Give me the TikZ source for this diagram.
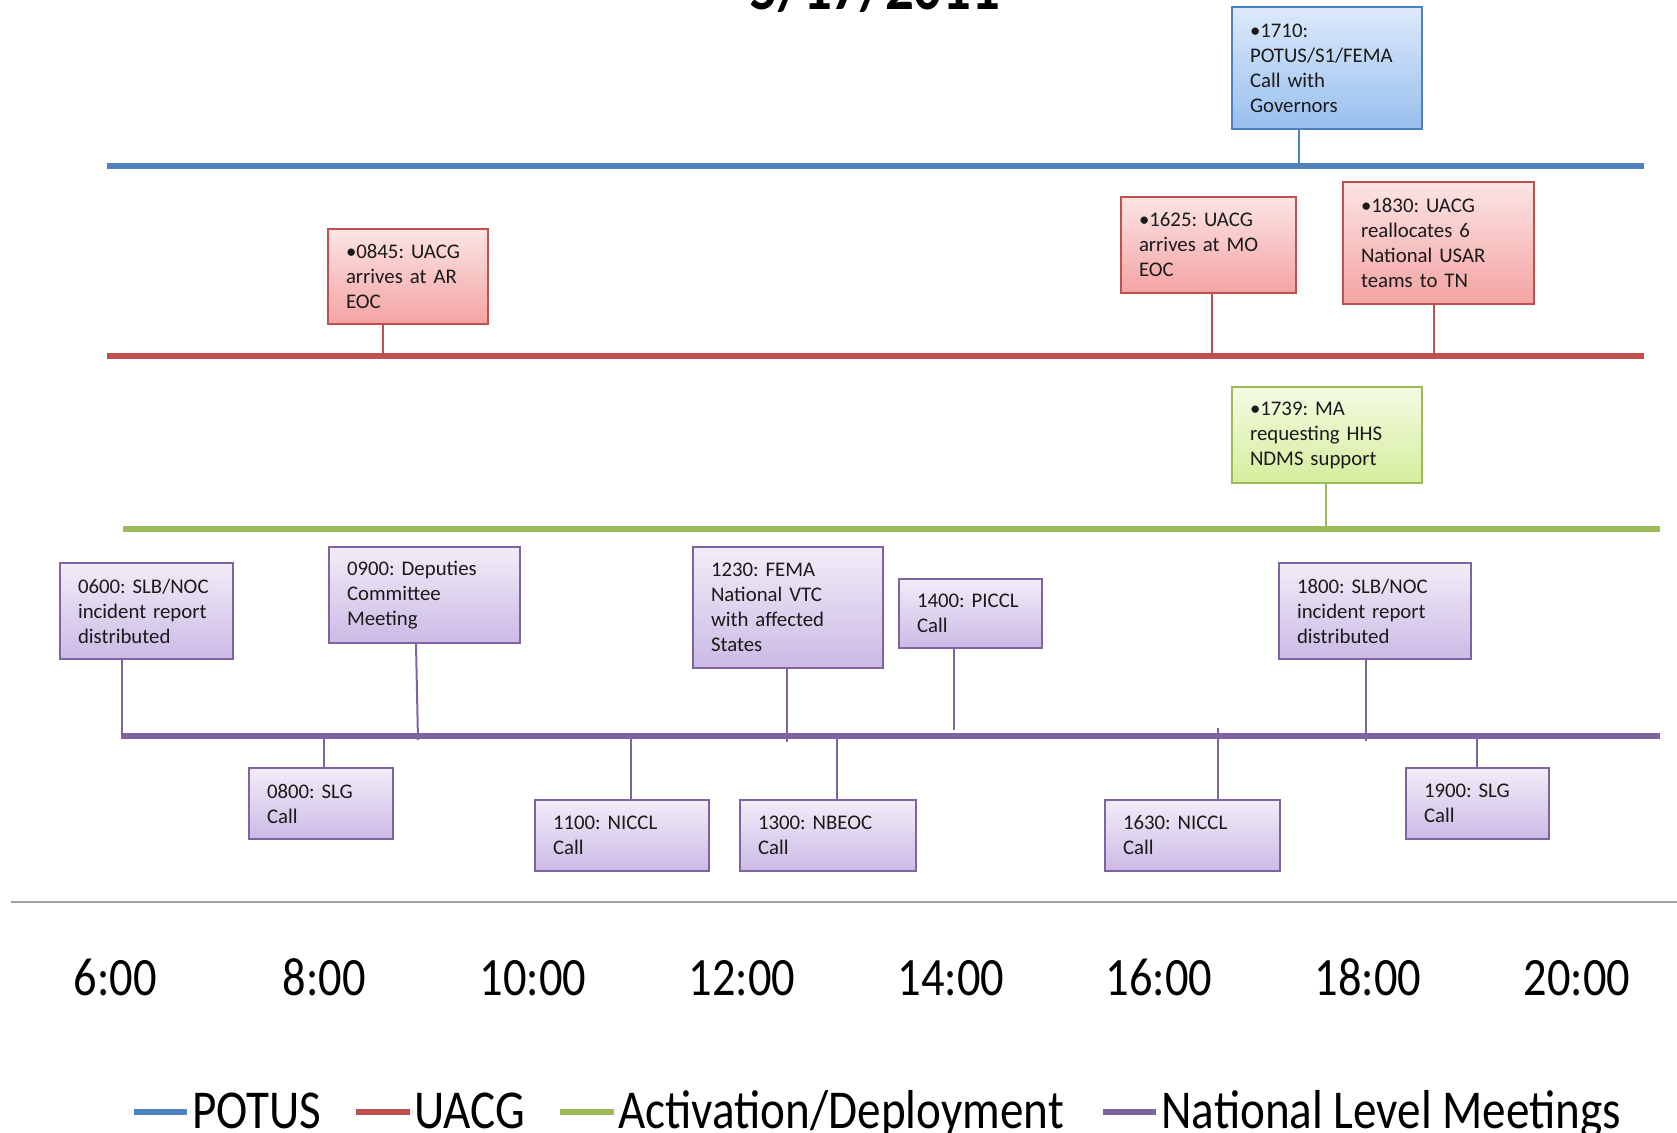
\documentclass[tikz,border=0pt]{standalone}
\usepackage{fontspec}
\setmainfont{Carlito}
\newfontfamily\narrowfont[FakeStretch=0.86]{Carlito}
\frenchspacing
\definecolor{potus}{HTML}{4F81BD}
\definecolor{uacg}{HTML}{C0504D}
\definecolor{actd}{HTML}{9BBB59}
\definecolor{nlm}{HTML}{8064A2}
\definecolor{axisgray}{HTML}{A0A0A0}
\definecolor{boxtext}{HTML}{1A1A1A}
\definecolor{bluetop}{HTML}{DCE9FA}
\definecolor{bluebot}{HTML}{98BFEE}
\definecolor{redtop}{HTML}{FCE4E4}
\definecolor{redbot}{HTML}{F4A3A3}
\definecolor{greentop}{HTML}{F5FBE4}
\definecolor{greenbot}{HTML}{D5ED9C}
\definecolor{purptop}{HTML}{F2EDF8}
\definecolor{purpbot}{HTML}{CBBAE5}
\tikzset{
  evbox/.style={draw, line width=1pt, align=left, inner xsep=9pt, inner ysep=0pt,
    font=\fontsize{10.4}{12.5}\selectfont, text=boxtext, anchor=center},
  sz/.style n args={3}{minimum width=#1pt, minimum height=#2pt, text width=#3pt},
  bluebox/.style={evbox, draw=potus, top color=bluetop, bottom color=bluebot},
  redbox/.style={evbox, draw=uacg, top color=redtop, bottom color=redbot},
  greenbox/.style={evbox, draw=actd, top color=greentop, bottom color=greenbot},
  purplebox/.style={evbox, draw=nlm, top color=purptop, bottom color=purpbot},
  seriesline/.style={line width=2.6pt},
  conn/.style={line width=1pt},
  axislbl/.style={anchor=base, inner sep=0pt, font=\narrowfont\fontsize{27}{30}\selectfont},
  leglbl/.style={anchor=base west, inner sep=0pt, font=\narrowfont\fontsize{27.4}{30}\selectfont},
  legline/.style={line width=3pt},
}
\begin{document}
\begin{tikzpicture}[x=0.5pt, y=-0.5pt]
\clip (0,0) rectangle (1677,1133);
\fill[white] (0,0) rectangle (1677,1133);

% title (cut off at top)
\node[anchor=base, inner sep=0pt, font=\narrowfont\bfseries\fontsize{33}{36}\selectfont] (title) at (875,10) {5/17/2011};

% series lines
\coordinate (potusL) at (107,166);  \coordinate (potusR) at (1644,166);
\coordinate (uacgL) at (107,356);   \coordinate (uacgR) at (1644,356);
\coordinate (actdL) at (123,529);   \coordinate (actdR) at (1660,529);
\coordinate (nlmL) at (121,736);    \coordinate (nlmR) at (1660,736);
\draw[seriesline, potus] (potusL) -- (potusR);
\draw[seriesline, uacg] (uacgL) -- (uacgR);
\draw[seriesline, actd] (actdL) -- (actdR);
\draw[seriesline, nlm] (nlmL) -- (nlmR);

% axis
\coordinate (axL) at (11,902); \coordinate (axR) at (1677,902);
\draw[line width=1.3pt, axisgray] (axL) -- (axR);

% boxes
\node[bluebox, sz={95}{60.75}{77}] (b1710) at (1327,68) {•1710:\\POTUS/S1/FEMA\\Call with\\Governors};
\node[redbox, sz={80}{47.5}{62}] (b0845) at (408,276.5) {•0845: UACG\\arrives at AR\\EOC};
\node[redbox, sz={87.5}{48}{69.5}] (b1625) at (1208.5,245) {•1625: UACG\\arrives at MO\\EOC};
\node[redbox, sz={95.5}{61}{77.5}] (b1830) at (1438.5,243) {•1830: UACG\\reallocates 6\\National USAR\\teams to TN};
\node[greenbox, sz={95}{48}{77}] (b1739) at (1327,435) {•1739: MA\\requesting HHS\\NDMS support};
\node[purplebox, sz={86.5}{48}{68.5}] (b0600) at (146.5,611) {0600: SLB/NOC\\incident report\\distributed};
\node[purplebox, sz={95.5}{48}{77.5}] (b0900) at (424.5,595) {0900: Deputies\\Committee\\Meeting};
\node[purplebox, sz={95}{60.5}{77}] (b1230) at (788,607.5) {1230: FEMA\\National VTC\\with affected\\States};
\node[purplebox, sz={71.5}{34.5}{53.5}] (b1400) at (970.5,613.5) {1400: PICCL\\Call};
\node[purplebox, sz={96}{48}{78}] (b1800) at (1375,611) {1800: SLB/NOC\\incident report\\distributed};
\node[purplebox, sz={72}{35.5}{54}] (b0800) at (321,803.5) {0800: SLG\\Call};
\node[purplebox, sz={87}{35.5}{69}] (b1100) at (622,835.5) {1100: NICCL\\Call};
\node[purplebox, sz={88}{35.5}{70}] (b1300) at (828,835.5) {1300: NBEOC\\Call};
\node[purplebox, sz={87.5}{35.5}{69.5}] (b1630) at (1192.5,835.5) {1630: NICCL\\Call};
\node[purplebox, sz={71.5}{35.5}{53.5}] (b1900) at (1477.5,803.5) {1900: SLG\\Call};

% connector anchor points on lines
\coordinate (p1710) at (1299,166);
\coordinate (p0845) at (383,356);
\coordinate (p1625) at (1212,353);
\coordinate (p1830) at (1434,356);
\coordinate (p1739) at (1326,529);
\coordinate (p0600) at (122,736);
\coordinate (p0900) at (418,740);
\coordinate (p1230) at (787,742);
\coordinate (p1400) at (954,730);
\coordinate (p1800) at (1366,741);
\coordinate (p0800) at (324,736);
\coordinate (p1100) at (631,736);
\coordinate (p1300) at (837,736);
\coordinate (p1630) at (1218,728);
\coordinate (p1900) at (1477,736);

\draw[conn, potus] (b1710.south -| p1710) -- (p1710);
\draw[conn, uacg] (b0845.south -| p0845) -- (p0845);
\draw[conn, uacg] (b1625.south -| p1625) -- (p1625);
\draw[conn, uacg] (b1830.south -| p1830) -- (p1830);
\draw[conn, actd] (b1739.south -| p1739) -- (p1739);
\draw[conn, nlm] (b0600.south -| p0600) -- (p0600);
\draw[conn, nlm] ([xshift=-1pt]b0900.south -| p0900) -- (p0900);
\draw[conn, nlm] (b1230.south -| p1230) -- (p1230);
\draw[conn, nlm] (b1400.south -| p1400) -- (p1400);
\draw[conn, nlm] (b1800.south -| p1800) -- (p1800);
\draw[conn, nlm] (p0800) -- (b0800.north -| p0800);
\draw[conn, nlm] (p1100) -- (b1100.north -| p1100);
\draw[conn, nlm] (p1300) -- (b1300.north -| p1300);
\draw[conn, nlm] (p1630) -- (b1630.north -| p1630);
\draw[conn, nlm] (p1900) -- (b1900.north -| p1900);

% axis labels
\node[axislbl] (t06) at (115.5,995) {6:00};
\node[axislbl] (t08) at (324,995) {8:00};
\node[axislbl] (t10) at (533,995) {10:00};
\node[axislbl] (t12) at (742,995) {12:00};
\node[axislbl] (t14) at (951,995) {14:00};
\node[axislbl] (t16) at (1159,995) {16:00};
\node[axislbl] (t18) at (1368,995) {18:00};
\node[axislbl] (t20) at (1577,995) {20:00};

% legend
\coordinate (lg1a) at (134,1112); \coordinate (lg1b) at (187,1112);
\coordinate (lg2a) at (356,1112); \coordinate (lg2b) at (410,1112);
\coordinate (lg3a) at (560,1112); \coordinate (lg3b) at (614,1112);
\coordinate (lg4a) at (1103,1112); \coordinate (lg4b) at (1156,1112);
\draw[legline, potus] (lg1a) -- (lg1b);
\draw[legline, uacg] (lg2a) -- (lg2b);
\draw[legline, actd] (lg3a) -- (lg3b);
\draw[legline, nlm] (lg4a) -- (lg4b);
\node[leglbl] (l1) at (192,1128) {POTUS};
\node[leglbl] (l2) at (414,1128) {UACG};
\node[leglbl] (l3) at (618,1128) {Activation/Deployment};
\node[leglbl] (l4) at (1161,1128) {National Level Meetings};
\end{tikzpicture}
\end{document}
